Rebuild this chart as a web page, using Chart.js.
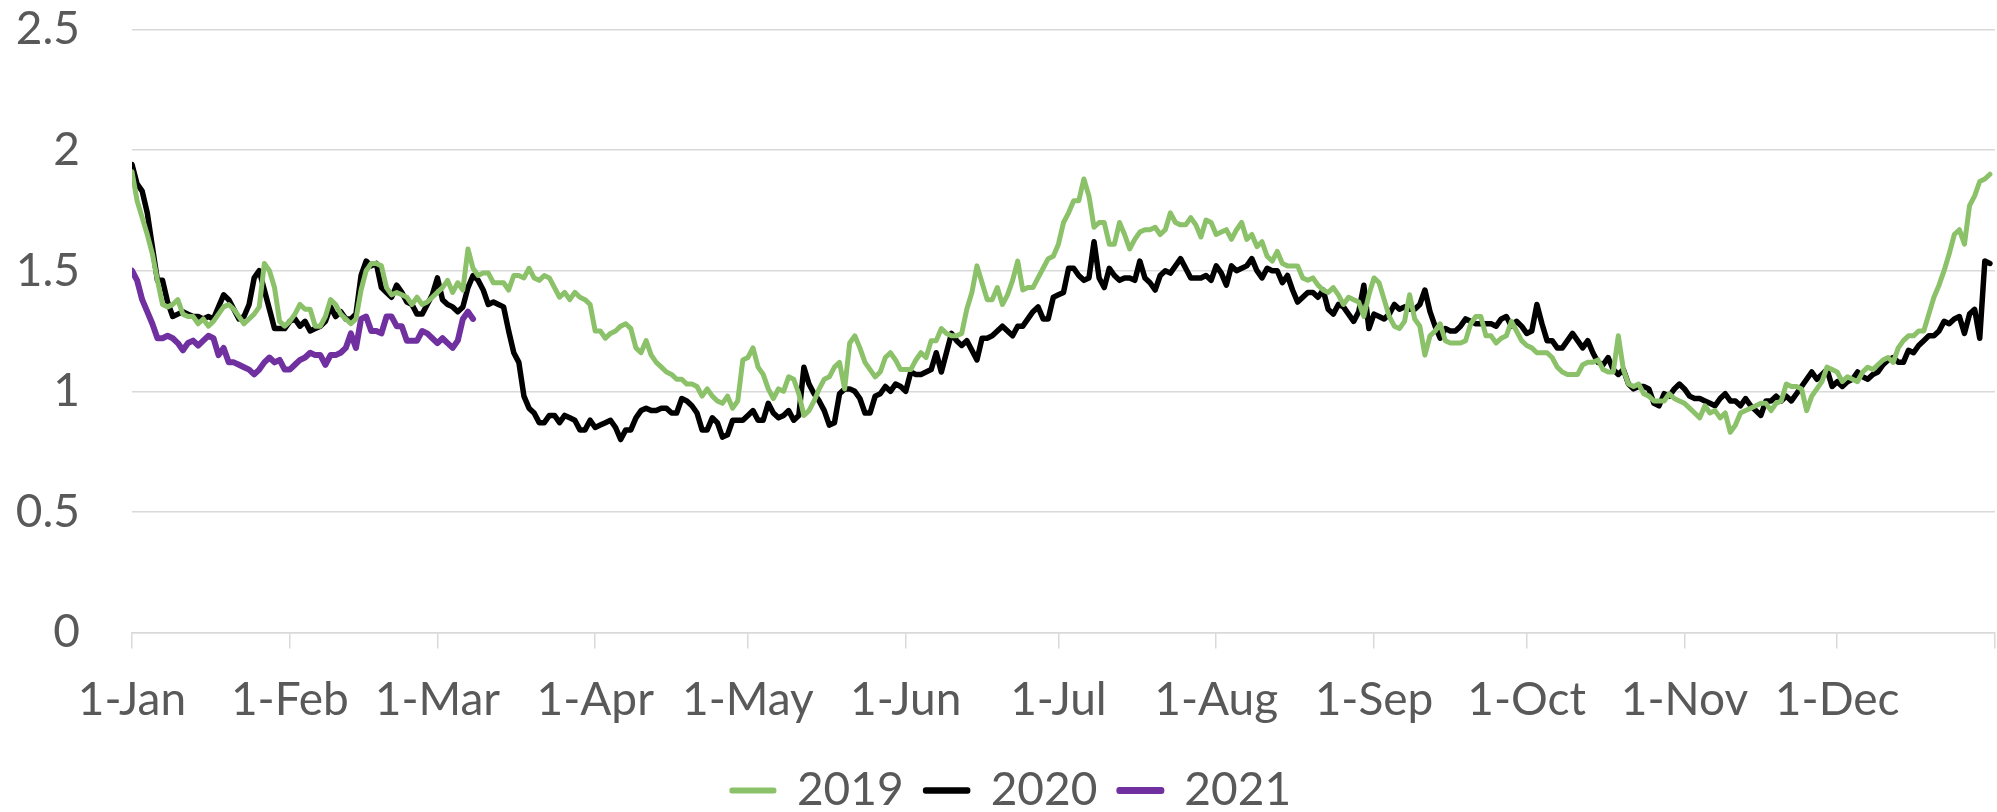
<!DOCTYPE html>
<html>
<head>
<meta charset="utf-8">
<style>
  html, body { margin: 0; padding: 0; background: #ffffff; }
  #wrap { width: 1997px; height: 812px; }
</style>
<script src="https://cdn.jsdelivr.net/npm/chart.js@4.4.1/dist/chart.umd.min.js"></script>
</head>
<body>
<div id="wrap"><canvas id="c" width="1997" height="812"></canvas></div>
<script>
// ---- data (daily values, day index 0 = 1-Jan) ----
const monthStarts = [0, 31, 60, 91, 121, 152, 182, 213, 244, 274, 305, 335];
const monthLabels = ['1-Jan','1-Feb','1-Mar','1-Apr','1-May','1-Jun','1-Jul','1-Aug','1-Sep','1-Oct','1-Nov','1-Dec'];
const seriesNames = ['2019', '2020', '2021'];

const values2019 = [
1.91,1.79,1.72,1.65,1.57,1.46,1.36,1.35,1.36,1.38,
1.32,1.31,1.31,1.28,1.30,1.27,1.29,1.32,1.35,1.36,
1.34,1.31,1.28,1.30,1.32,1.35,1.53,1.50,1.43,1.29,
1.27,1.29,1.32,1.36,1.34,1.34,1.27,1.27,1.31,1.38,
1.36,1.32,1.30,1.28,1.30,1.42,1.50,1.53,1.53,1.52,
1.43,1.40,1.41,1.40,1.39,1.36,1.39,1.36,1.37,1.39,
1.41,1.43,1.46,1.41,1.45,1.42,1.59,1.51,1.48,1.49,
1.49,1.45,1.45,1.45,1.42,1.48,1.48,1.47,1.51,1.47,
1.46,1.48,1.47,1.43,1.39,1.41,1.38,1.41,1.39,1.38,
1.36,1.25,1.25,1.22,1.24,1.25,1.27,1.28,1.26,1.18,
1.16,1.21,1.15,1.12,1.10,1.08,1.07,1.05,1.05,1.03,
1.03,1.02,0.98,1.01,0.98,0.96,0.95,0.98,0.93,0.96,
1.13,1.14,1.18,1.10,1.07,1.01,0.97,1.01,1.00,1.06,
1.05,0.99,0.90,0.92,0.96,1.01,1.05,1.06,1.10,1.12,
1.01,1.20,1.23,1.18,1.12,1.09,1.06,1.08,1.14,1.16,
1.13,1.09,1.09,1.09,1.13,1.16,1.14,1.21,1.21,1.26,
1.24,1.23,1.23,1.24,1.34,1.41,1.52,1.45,1.38,1.38,
1.43,1.36,1.40,1.46,1.54,1.42,1.43,1.43,1.47,1.51,
1.55,1.56,1.61,1.70,1.74,1.79,1.79,1.88,1.81,1.68,
1.70,1.70,1.61,1.61,1.70,1.65,1.59,1.63,1.66,1.67,
1.67,1.68,1.65,1.67,1.74,1.70,1.69,1.69,1.72,1.69,
1.64,1.71,1.70,1.65,1.66,1.67,1.63,1.67,1.70,1.63,
1.65,1.60,1.62,1.56,1.54,1.58,1.53,1.52,1.52,1.52,
1.47,1.46,1.47,1.44,1.42,1.41,1.43,1.40,1.36,1.39,
1.38,1.37,1.31,1.40,1.47,1.45,1.38,1.31,1.27,1.26,
1.29,1.40,1.30,1.27,1.15,1.23,1.25,1.28,1.21,1.20,
1.20,1.20,1.21,1.28,1.31,1.31,1.23,1.23,1.20,1.22,
1.23,1.29,1.25,1.21,1.19,1.18,1.16,1.16,1.16,1.14,
1.10,1.08,1.07,1.07,1.07,1.11,1.12,1.12,1.13,1.09,
1.08,1.08,1.23,1.09,1.03,1.02,1.03,0.99,0.98,0.96,
0.96,0.96,0.99,0.97,0.96,0.95,0.93,0.91,0.89,0.94,
0.91,0.92,0.89,0.91,0.83,0.86,0.91,0.92,0.93,0.94,
0.95,0.95,0.92,0.95,0.96,1.03,1.02,1.02,1.01,0.92,
0.98,1.01,1.04,1.10,1.09,1.08,1.04,1.06,1.05,1.04,
1.08,1.10,1.09,1.11,1.13,1.14,1.12,1.18,1.21,1.23,
1.23,1.25,1.25,1.32,1.39,1.44,1.50,1.57,1.65,1.67,
1.61,1.77,1.81,1.87,1.88,1.90
];

const values2020 = [
1.94,1.86,1.83,1.74,1.60,1.46,1.46,1.37,1.31,1.32,
1.33,1.32,1.31,1.31,1.30,1.31,1.30,1.35,1.40,1.38,
1.34,1.30,1.31,1.36,1.47,1.50,1.42,1.34,1.26,1.26,
1.26,1.29,1.30,1.27,1.29,1.25,1.26,1.27,1.29,1.35,
1.31,1.33,1.30,1.30,1.32,1.48,1.54,1.52,1.53,1.43,
1.41,1.39,1.44,1.41,1.37,1.36,1.32,1.32,1.36,1.40,
1.47,1.38,1.36,1.35,1.33,1.35,1.43,1.48,1.46,1.42,
1.36,1.37,1.36,1.35,1.25,1.16,1.12,0.98,0.93,0.91,
0.87,0.87,0.90,0.90,0.87,0.90,0.89,0.88,0.84,0.84,
0.88,0.85,0.86,0.87,0.88,0.85,0.80,0.84,0.84,0.89,
0.92,0.93,0.92,0.92,0.93,0.93,0.91,0.91,0.97,0.96,
0.94,0.91,0.84,0.84,0.89,0.87,0.81,0.82,0.88,0.88,
0.88,0.90,0.92,0.88,0.88,0.95,0.91,0.89,0.90,0.92,
0.88,0.90,1.10,1.03,0.99,0.96,0.92,0.86,0.87,0.99,
1.01,1.01,1.00,0.97,0.91,0.91,0.98,0.99,1.02,1.00,
1.03,1.02,1.00,1.08,1.07,1.07,1.08,1.09,1.16,1.08,
1.16,1.24,1.21,1.19,1.21,1.17,1.13,1.22,1.22,1.23,
1.25,1.27,1.25,1.23,1.27,1.27,1.30,1.33,1.35,1.30,
1.30,1.39,1.40,1.41,1.51,1.51,1.48,1.46,1.47,1.62,
1.47,1.43,1.51,1.48,1.46,1.47,1.47,1.46,1.54,1.47,
1.45,1.42,1.48,1.50,1.49,1.52,1.55,1.51,1.47,1.47,
1.47,1.48,1.46,1.52,1.49,1.44,1.52,1.50,1.51,1.52,
1.55,1.50,1.47,1.51,1.50,1.50,1.45,1.48,1.42,1.37,
1.39,1.41,1.41,1.39,1.42,1.34,1.32,1.36,1.35,1.32,
1.29,1.33,1.44,1.26,1.32,1.31,1.30,1.32,1.36,1.34,
1.35,1.34,1.34,1.36,1.42,1.33,1.27,1.22,1.26,1.25,
1.25,1.27,1.30,1.29,1.28,1.28,1.28,1.28,1.27,1.30,
1.31,1.27,1.29,1.27,1.24,1.25,1.36,1.28,1.21,1.21,
1.18,1.18,1.21,1.24,1.21,1.18,1.21,1.16,1.12,1.11,
1.14,1.09,1.07,1.09,1.03,1.01,1.02,1.02,1.01,0.95,
0.94,0.99,0.98,1.01,1.03,1.01,0.98,0.97,0.97,0.96,
0.95,0.94,0.97,0.99,0.96,0.96,0.94,0.97,0.94,0.92,
0.90,0.96,0.96,0.98,0.96,0.98,0.96,0.99,1.02,1.05,
1.08,1.05,1.07,1.09,1.02,1.04,1.02,1.04,1.05,1.08,
1.06,1.05,1.07,1.08,1.11,1.13,1.14,1.12,1.12,1.17,
1.16,1.19,1.21,1.23,1.23,1.25,1.29,1.28,1.30,1.31,
1.24,1.32,1.34,1.22,1.54,1.53
];

const values2021 = [
1.50,1.46,1.38,1.33,1.28,1.22,1.22,1.23,1.22,1.20,
1.17,1.20,1.21,1.19,1.21,1.23,1.22,1.15,1.18,1.12,
1.12,1.11,1.10,1.09,1.07,1.09,1.12,1.14,1.12,1.13,
1.09,1.09,1.11,1.13,1.14,1.16,1.15,1.15,1.11,1.15,
1.15,1.16,1.18,1.24,1.18,1.30,1.31,1.25,1.25,1.24,
1.31,1.31,1.27,1.27,1.21,1.21,1.21,1.25,1.24,1.22,
1.20,1.22,1.20,1.18,1.21,1.30,1.33,1.30
];

const seriesColors = ['#8BC168', '#000000', '#7030A0'];
const seriesWidths = [5, 5.5, 6];

// ---- chart ----
const toPoints = arr => arr.map((v, i) => ({ x: i, y: v }));
const allValues = [values2019, values2020, values2021];
const FONT = 'Lato';
const TXT = '#595959';
const GRID = '#d9d9d9';

// nudge the legend box horizontally (reference legend sits slightly right of centre)
const legendShift = {
  id: 'legendShift',
  afterLayout(chart) {
    if (chart.legend) {
      chart.legend.left += 14;
      chart.legend.right += 14;
    }
  }
};

function build() {
  new Chart(document.getElementById('c'), {
    type: 'line',
    data: {
      datasets: seriesNames.map((name, k) => ({
        label: name,
        data: toPoints(allValues[k]),
        borderColor: seriesColors[k],
        backgroundColor: seriesColors[k],
        borderWidth: seriesWidths[k],
        borderCapStyle: 'round',
        borderJoinStyle: 'round',
        pointRadius: 0,
        pointHoverRadius: 0,
        tension: 0,
        fill: false
      }))
    },
    plugins: [legendShift],
    options: {
      responsive: false,
      devicePixelRatio: 1,
      animation: false,
      events: [],
      layout: { padding: { top: 29.5, right: 2, bottom: -11.5, left: 0 } },
      plugins: {
        tooltip: { enabled: false },
        title: { display: false },
        legend: {
          display: true,
          position: 'bottom',
          labels: {
            font: { family: FONT, size: 46 },
            color: TXT,
            boxWidth: 42,
            boxHeight: 1,
            padding: 22
          }
        }
      },
      scales: {
        x: {
          type: 'linear',
          min: 0,
          max: 366,
          afterBuildTicks: (scale) => {
            scale.ticks = monthStarts.concat([366]).map(v => ({ value: v }));
          },
          afterFit: (scale) => {
            scale.height = 113;
            scale.paddingLeft = 0;
            scale.paddingRight = 0;
          },
          ticks: {
            autoSkip: false,
            maxRotation: 0,
            minRotation: 0,
            font: { family: FONT, size: 46 },
            color: TXT,
            padding: 24,
            callback: (v) => {
              const i = monthStarts.indexOf(v);
              return i >= 0 ? monthLabels[i] : '';
            }
          },
          grid: {
            display: true,
            drawOnChartArea: false,
            drawTicks: true,
            tickLength: 16,
            color: GRID,
            lineWidth: 1.5
          },
          border: { display: true, color: GRID, width: 1.5 }
        },
        y: {
          min: 0,
          max: 2.5,
          afterFit: (scale) => {
            scale.width = 132;
            scale.paddingTop = 0;
            scale.paddingBottom = 0;
          },
          ticks: {
            stepSize: 0.5,
            font: { family: FONT, size: 46 },
            color: TXT,
            padding: 52,
            callback: (v) => String(v)
          },
          grid: {
            color: GRID,
            lineWidth: 1.5,
            drawTicks: false
          },
          border: { display: false }
        }
      }
    }
  });
}

if (document.fonts && document.fonts.load) {
  document.fonts.load('46px Lato').then(build, build);
} else {
  build();
}
</script>
</body>
</html>
